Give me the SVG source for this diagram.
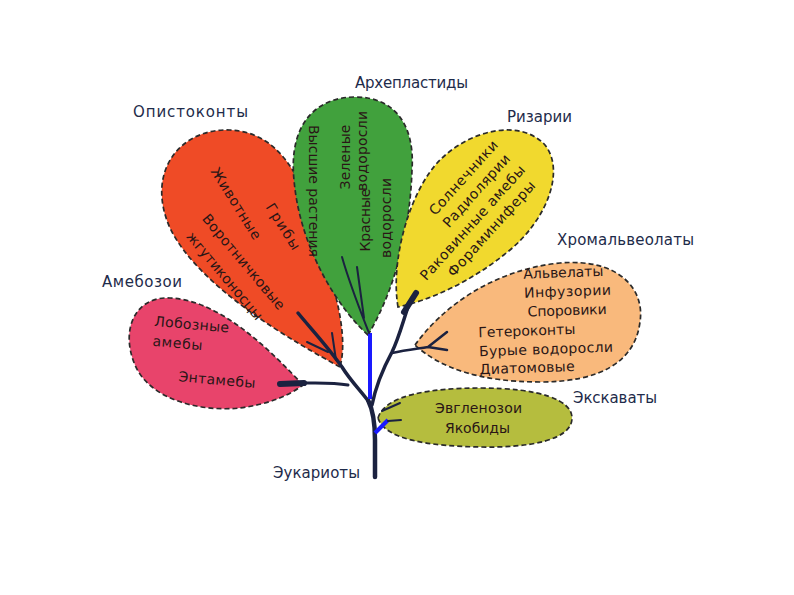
<svg xmlns="http://www.w3.org/2000/svg" width="794" height="595" viewBox="0 0 794 595">
<style>
.leaf{stroke:#2a2a2a;stroke-width:1.7;stroke-dasharray:5 3;}
.lbl{font-family:"DejaVu Sans","Liberation Sans",sans-serif;font-size:15px;fill:#1e2b4a;}
.in{font-family:"DejaVu Sans","Liberation Sans",sans-serif;font-size:14px;fill:#2a1616;}
.br{fill:none;stroke:#1b2240;stroke-linecap:round;stroke-linejoin:round;}
.bl{fill:none;stroke:#1a1aff;stroke-linecap:butt;}
</style>
<rect width="794" height="595" fill="#ffffff"/>

<g id="opisthokonta">
<path class="leaf" fill="#ef4b26" d="M340,367 C300,345 200,290 170,228 C145,172 180,128 230,130 C275,132 300,170 315,225 C330,275 350,330 340,367 Z"/>
<text class="lbl" x="133" y="117" textLength="115">Опистоконты</text>
<text class="in" transform="translate(279,229) rotate(58)" text-anchor="middle" textLength="52">Грибы</text>
<text class="in" transform="translate(232,206) rotate(58)" text-anchor="middle" textLength="82">Животные</text>
<text class="in" transform="translate(240,265) rotate(50)" text-anchor="middle" textLength="120">Воротничковые</text>
<text class="in" transform="translate(221,279) rotate(50)" text-anchor="middle" textLength="110">жгутиконосцы</text>
</g>

<g id="archaeplastida">
<path class="leaf" fill="#41a13d" d="M368,335 C340,310 300,250 294,180 C288,120 320,97 355,97 C395,97 415,125 412,170 C410,230 395,290 368,335 Z"/>
<text class="lbl" x="355" y="88" textLength="113">Архепластиды</text>
<text class="in" transform="translate(309,191) rotate(90)" text-anchor="middle" textLength="132">Высшие растения</text>
<text class="in" transform="translate(350,157) rotate(-90)" text-anchor="middle" textLength="65">Зеленые</text>
<text class="in" transform="translate(367,151) rotate(-90)" text-anchor="middle" textLength="80">водоросли</text>
<text class="in" transform="translate(370,220) rotate(-90)" text-anchor="middle" textLength="63">Красные</text>
<text class="in" transform="translate(391,218) rotate(-90)" text-anchor="middle" textLength="80">водоросли</text>
</g>

<g id="rhizaria">
<path class="leaf" fill="#f1d92e" d="M398,307 C390,260 410,190 440,160 C470,130 520,118 545,145 C565,170 548,218 510,250 C470,283 430,300 398,307 Z"/>
<text class="lbl" x="507" y="122" textLength="65">Ризарии</text>
<text class="in" transform="translate(467,181) rotate(-48)" text-anchor="middle" textLength="95">Солнечники</text>
<text class="in" transform="translate(480,194) rotate(-48)" text-anchor="middle" textLength="93">Радиолярии</text>
<text class="in" transform="translate(476,226) rotate(-48)" text-anchor="middle" textLength="149">Раковинные амебы</text>
<text class="in" transform="translate(495,232) rotate(-48)" text-anchor="middle" textLength="123">Фораминиферы</text>
</g>

<g id="chromalveolata">
<path class="leaf" fill="#f9b97c" d="M415,345 C440,310 490,270 560,263 C620,258 645,290 640,322 C635,362 600,382 540,382 C480,382 440,368 415,345 Z"/>
<text class="lbl" x="557" y="245" textLength="137">Хромальвеолаты</text>
<g transform="rotate(-2 545 320)">
<text class="in" x="525" y="278" textLength="80">Альвелаты</text>
<text class="in" x="525" y="297" textLength="87">Инфузории</text>
<text class="in" x="528" y="316" textLength="79">Споровики</text>
<text class="in" x="478" y="335" textLength="97">Гетероконты</text>
<text class="in" x="478" y="354" textLength="134">Бурые водоросли</text>
<text class="in" x="478" y="372" textLength="95">Диатомовые</text>
</g>
</g>

<g id="amoebozoa">
<path class="leaf" fill="#e8446b" d="M303,385 C270,350 220,300 170,298 C135,296 120,330 135,365 C150,400 200,412 240,408 C270,404 290,395 303,385 Z"/>
<text class="lbl" x="102" y="287" textLength="80">Амебозои</text>
<g transform="rotate(5 200 350)">
<text class="in" x="152" y="330" textLength="75">Лобозные</text>
<text class="in" x="152" y="350" textLength="50">амебы</text>
<text class="in" x="181" y="383" textLength="77">Энтамебы</text>
</g>
</g>

<g id="excavata">
<path class="leaf" fill="#b5bd3e" d="M378,418 C385,395 430,388 480,388 C540,388 572,400 572,418 C572,440 530,448 480,447 C430,446 385,440 378,418 Z"/>
<text class="lbl" x="573" y="403" textLength="84">Экскаваты</text>
<text class="in" x="435" y="413" textLength="87">Эвгленозои</text>
<text class="in" x="445" y="433" textLength="65">Якобиды</text>
</g>

<g id="eukaryota">
<text class="lbl" x="273" y="478" textLength="87">Эукариоты</text>
</g>

<g id="connectors">
<path class="br" stroke-width="4.5" d="M375,477 L375,440 C375,425 373,410 368,400"/>
<path class="br" stroke-width="3.5" d="M369,402 C360,390 350,380 342,367 C328,347 312,330 298,313"/>
<path class="br" stroke-width="2" d="M307,342 L328,352 M332,333 L336,360"/>
<path class="br" stroke-width="3" d="M348,385 C332,382 315,383 300,383"/>
<path class="br" stroke-width="6" d="M280,384 L304,383"/>
<path class="bl" stroke-width="4" d="M370,399 L370,333"/>
<path class="br" stroke-width="2" d="M342,257 C350,285 360,310 369,333 M357,267 L364,318"/>
<path class="br" stroke-width="3.5" d="M372,405 C376,385 385,365 392,352 C398,340 402,325 408,307"/>
<path class="br" stroke-width="6" d="M404,312 L416,293"/>
<path class="br" stroke-width="2.5" d="M392,353 C405,350 415,349 428,347 M428,347 L447,332 M428,347 L447,350"/>
<path class="bl" stroke-width="4" d="M375,433 L388,420"/>
<path class="br" stroke-width="2" d="M382,411 L400,403 M388,421 L401,420"/>
</g>
</svg>
